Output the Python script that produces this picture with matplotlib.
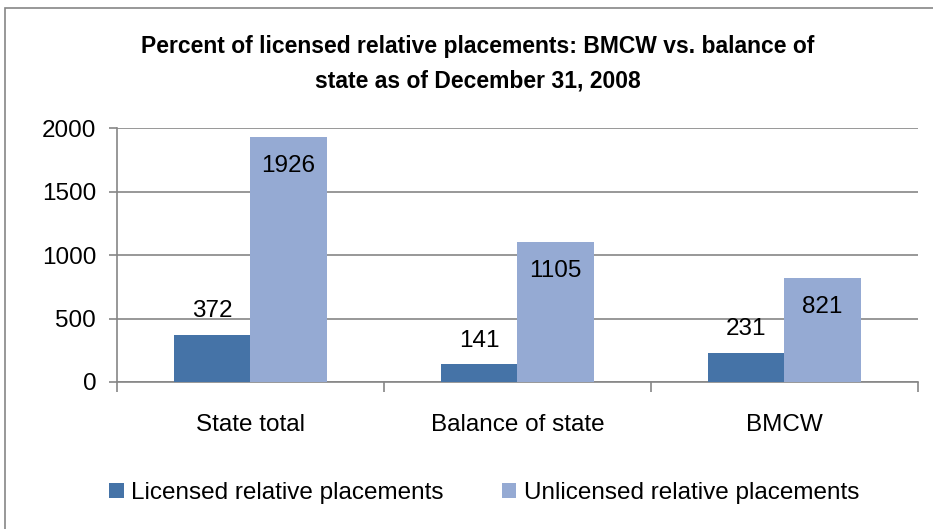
#!/usr/bin/env python3

import matplotlib.pyplot as plt
import numpy as np
from matplotlib.patches import Rectangle

categories = ["State total", "Balance of state", "BMCW"]
licensed = [372, 141, 231]
unlicensed = [1926, 1105, 821]
series_names = ["Licensed relative placements", "Unlicensed relative placements"]
title = "Percent of licensed relative placements: BMCW vs. balance of\nstate as of December 31, 2008"

plt.rcParams["font.family"] = ["Liberation Sans", "DejaVu Sans"]

dark = "#4573A7"
light = "#95AAD3"
grid = "#868686"
fs = 17.5

fig = plt.figure(figsize=(9.33, 5.29), dpi=100)
fig.patches.append(Rectangle((5 / 933, -0.1), 1.2, 1 - 8 / 529 + 0.1, transform=fig.transFigure,
                             fill=False, edgecolor="#868686", linewidth=1.2))
ax = fig.add_axes([117 / 933, 1 - 382 / 529, (918 - 117) / 933, (382 - 128) / 529])

x = np.arange(len(categories))
w = 0.285
b1 = ax.bar(x - w / 2, licensed, w, color=dark, label=series_names[0], zorder=3)
b2 = ax.bar(x + w / 2, unlicensed, w, color=light, label=series_names[1], zorder=3)

for rect, v in zip(b1, licensed):
    ax.annotate(str(v), (rect.get_x() + rect.get_width() / 2, v), xytext=(0, 9),
                textcoords="offset points", ha="center", va="bottom", fontsize=fs)
for rect, v in zip(b2, unlicensed):
    ax.annotate(str(v), (rect.get_x() + rect.get_width() / 2, v), xytext=(0, -13),
                textcoords="offset points", ha="center", va="top", fontsize=fs)

ax.set_xlim(-0.5, 2.5)
ax.set_ylim(0, 2000)
ax.set_yticks([0, 500, 1000, 1500, 2000])
ax.yaxis.grid(True, color=grid, linewidth=1.2, zorder=0)
ax.set_axisbelow(True)

ax.set_xticks(x)
ax.set_xticklabels(categories, fontsize=fs)
ax.tick_params(axis="x", length=0, pad=23)
ax.set_xticks([-0.5, 0.5, 1.5, 2.5], minor=True)
ax.tick_params(axis="x", which="minor", length=7, color=grid, width=1.2)
ax.tick_params(axis="y", length=6, color=grid, width=1.2, labelsize=fs, pad=9)

for s in ["top", "right"]:
    ax.spines[s].set_visible(False)
for s in ["left", "bottom"]:
    ax.spines[s].set_color(grid)
    ax.spines[s].set_linewidth(1.2)

fig.text(478 / 933, 1 - 64 / 529, title, ha="center", va="center", fontsize=16.5,
         fontweight="bold", linespacing=1.65)

fig.legend(handles=[b1, b2], loc="center", bbox_to_anchor=(484 / 933, 1 - 493 / 529), ncol=2,
           frameon=False, fontsize=fs, handlelength=0.6, handleheight=0.6,
           handletextpad=0.3, columnspacing=2.4)

fig.savefig("out.png", dpi=100)
